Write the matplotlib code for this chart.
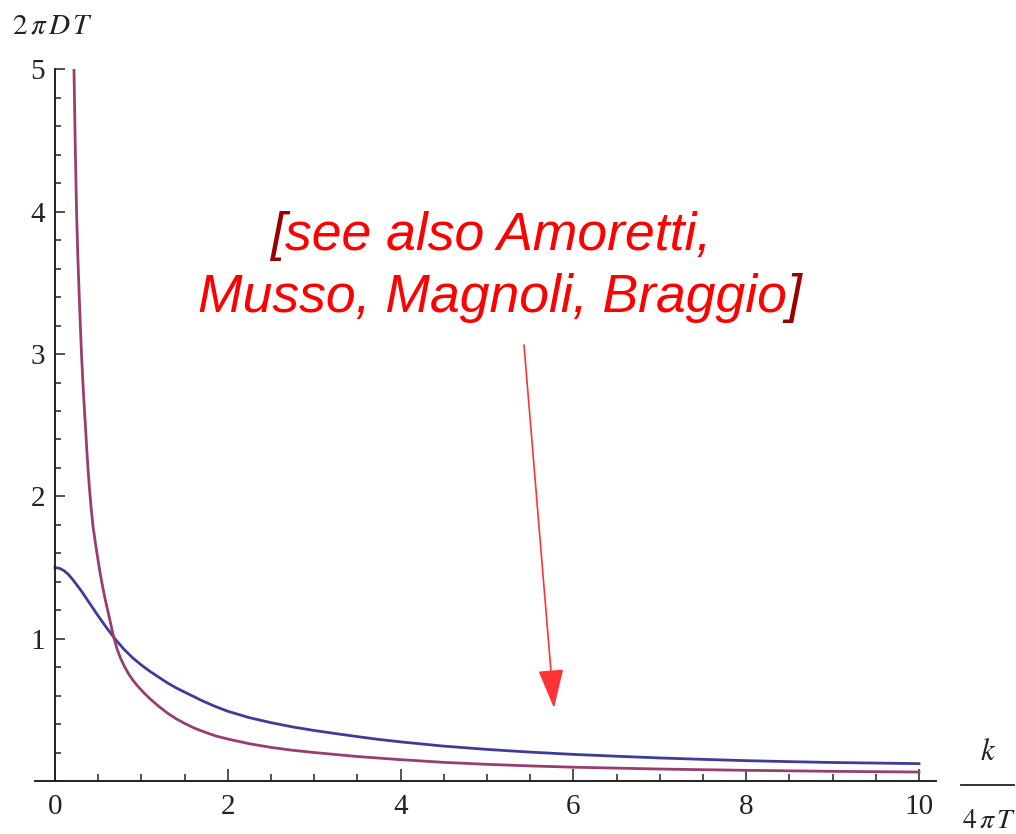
import matplotlib
matplotlib.use("Agg")
import matplotlib.pyplot as plt
from matplotlib.lines import Line2D
from matplotlib.ticker import MultipleLocator

# curve samples, k/(4 pi T) vs 2 pi D T
blue_k = [0, 0.05, 0.1, 0.15, 0.2, 0.25, 0.3, 0.35, 0.4, 0.5, 0.6, 0.7, 0.8, 0.9,
          1.0, 1.1, 1.2, 1.3, 1.4, 1.55, 1.7, 1.85, 2.0, 2.25, 2.5, 2.75, 3.0, 3.25,
          3.5, 3.75, 4.0, 4.5, 5.0, 5.5, 6.0, 6.5, 7.0, 7.5, 8.0, 8.5, 9.0, 9.5, 10.0]
blue_d = [1.50, 1.495, 1.48, 1.455, 1.42, 1.38, 1.34, 1.295, 1.25, 1.16, 1.075, 0.995,
          0.925, 0.865, 0.815, 0.77, 0.73, 0.69, 0.655, 0.61, 0.565, 0.525, 0.49, 0.445,
          0.41, 0.38, 0.355, 0.333, 0.312, 0.292, 0.275, 0.245, 0.222, 0.203, 0.187,
          0.174, 0.162, 0.152, 0.143, 0.136, 0.130, 0.126, 0.122]

purple_k = [0.22, 0.235, 0.25, 0.265, 0.28, 0.295, 0.31, 0.325, 0.34, 0.355, 0.37,
            0.385, 0.40, 0.42, 0.44, 0.465, 0.49, 0.52, 0.55, 0.58, 0.61, 0.645, 0.68,
            0.72, 0.76, 0.80, 0.85, 0.90, 0.95, 1.02, 1.10, 1.20, 1.30, 1.40, 1.50,
            1.62, 1.75, 1.87, 2.0, 2.25, 2.5, 2.75, 3.0, 3.5, 4.0, 4.5, 5.0, 5.5, 6.0,
            7.0, 8.0, 9.0, 10.0]
purple_d = [5.0, 4.45, 4.0, 3.68, 3.42, 3.18, 2.96, 2.78, 2.62, 2.47, 2.31, 2.17,
            2.05, 1.91, 1.79, 1.685, 1.585, 1.47, 1.37, 1.28, 1.20, 1.105, 1.01, 0.925,
            0.862, 0.81, 0.755, 0.71, 0.672, 0.625, 0.578, 0.525, 0.478, 0.438, 0.405,
            0.37, 0.34, 0.315, 0.295, 0.262, 0.236, 0.216, 0.200, 0.172, 0.150, 0.131,
            0.117, 0.106, 0.097, 0.084, 0.075, 0.068, 0.063]

x_ticks = [0, 2, 4, 6, 8, 10]
y_ticks = [1, 2, 3, 4, 5]

W, H = 1016, 834
fig = plt.figure(figsize=(W / 100, H / 100), dpi=100)
plt.rcParams['mathtext.fontset'] = 'stix'

ax = fig.add_axes([35.1 / W, 53 / H, 901.2 / W, 711.5 / H])
ax.plot(blue_k, blue_d, color='#3d3d99', lw=2.0)
ax.plot(purple_k, purple_d, color='#993d71', lw=2.0)

ax.set_xlim(-0.23, 10.2)
ax.set_ylim(0, 5)
for s in ['top', 'right']:
    ax.spines[s].set_visible(False)
ax.spines['left'].set_position(('data', 0))
for s in ['left', 'bottom']:
    ax.spines[s].set_linewidth(1.4)
    ax.spines[s].set_color('#222222')

ax.set_xticks(x_ticks)
ax.set_yticks(y_ticks)
ax.xaxis.set_minor_locator(MultipleLocator(0.5))
ax.yaxis.set_minor_locator(MultipleLocator(0.2))
ax.tick_params(axis='x', which='major', direction='in', length=9, width=1.1,
               pad=9, labelsize=21, colors='#222222')
ax.tick_params(axis='x', which='minor', direction='in', length=5, width=1.1, colors='#222222')
ax.tick_params(axis='y', which='major', direction='in', length=7, width=1.1,
               pad=7, labelsize=21, colors='#222222')
ax.tick_params(axis='y', which='minor', direction='in', length=4, width=1.1, colors='#222222')
for lab in ax.get_xticklabels() + ax.get_yticklabels():
    lab.set_family('Liberation Serif')

# axis labels
fig.text(12 / W, 1 - 33 / H, r'$2\,\pi\,D\,T$', fontsize=21, ha='left', va='baseline',
         color='#222222')
fig.text(988 / W, 1 - 760 / H, r'$k$', fontsize=22, ha='center', va='baseline',
         color='#222222')
fig.add_artist(Line2D([961 / W, 1014 / W], [1 - 785 / H, 1 - 785 / H],
                      color='#222222', lw=1.3))
fig.text(962 / W, 1 - 828 / H, r'$4\,\pi\,T$', fontsize=20, ha='left', va='baseline',
         color='#222222')

# note with arrow
note = dict(fontsize=38.5, family='Liberation Sans', style='italic')
dark = '#9a0000'
red = '#ff0000'
b1 = fig.text(270 / W, 1 - 250 / H, '[', color=dark, ha='left', va='baseline', **note)
ax.annotate('see also Amoretti,', xy=(1, 0), xycoords=b1, ha='left', va='bottom',
            color=red, **note)
l2 = fig.text(198 / W, 1 - 312 / H, 'Musso, Magnoli, Braggio', color=red, ha='left',
              va='baseline', **note)
ax.annotate(']', xy=(1, 0), xycoords=l2, ha='left', va='bottom', color=dark, **note)

ax.annotate('', xy=(554 / W, 1 - 708 / H), xytext=(524 / W, 1 - 345 / H),
            xycoords='figure fraction', textcoords='figure fraction',
            arrowprops=dict(arrowstyle='-|>,head_length=2.45,head_width=0.8',
                            color='#ff3333', lw=1.2, shrinkA=0, shrinkB=0,
                            mutation_scale=10))

fig.savefig('out.png', dpi=100, facecolor='white')
